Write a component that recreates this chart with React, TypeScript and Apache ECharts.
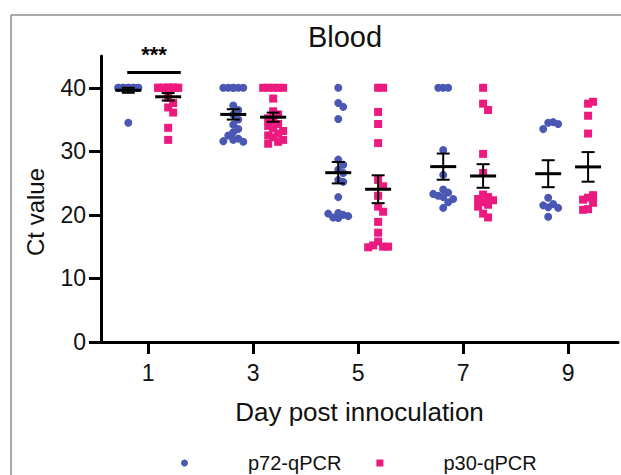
import React, { useEffect, useRef } from "react";
import * as echarts from "echarts";

const FONT = '"Liberation Sans", Arial, Helvetica, sans-serif';
const BLUE = "#4a58b3";
const PINK = "#ec1a7f";

const days = [1, 3, 5, 7, 9];
const yTicks = [0, 10, 20, 30, 40];
const seriesNames = ["p72-qPCR", "p30-qPCR"];

const p72Day1 = [40, 40, 40, 40, 40, 40, 40, 40, 40, 40, 40, 40, 40, 34.5];
const p72Day3 = [40, 40, 40, 40, 40, 40, 37.2, 36.5, 35.8, 35.0, 34.2, 33.5, 33.0, 32.5, 32.0, 31.8, 31.5, 31.6];
const p72Day5 = [40, 37.6, 37.0, 35.1, 28.7, 27.9, 27.1, 26.6, 25.5, 25.2, 22.8, 20.3, 20.0, 19.6, 19.8, 20.2, 19.5];
const p72Day7 = [40, 40, 40, 30.2, 26.3, 24.0, 23.5, 23.0, 22.8, 22.5, 23.3, 22.0, 21.1];
const p72Day9 = [34.5, 34.6, 33.5, 34.3, 22.7, 21.7, 21.2, 21.5, 21.1, 19.7];

const p30Day1 = [40, 40, 40, 40, 40, 40, 40, 40, 40, 40, 40, 40, 38.4, 37.6, 36.9, 36.1, 33.7, 31.8];
const p30Day3 = [40, 40, 40, 40, 40, 38.3, 36.3, 35.8, 35.2, 34.8, 34.3, 34.0, 33.6, 33.2, 32.8, 32.5, 32.2, 31.8, 31.5, 31.2];
const p30Day5 = [40, 40, 36.2, 34.3, 31.3, 25.5, 24.5, 23.0, 21.3, 20.5, 18.9, 17.2, 15.8, 15.0, 15.2, 15.0, 14.9];
const p30Day7 = [40, 37.5, 36.5, 29.6, 26.6, 23.2, 22.8, 22.5, 22.0, 21.6, 22.3, 21.3, 20.2, 19.6];
const p30Day9 = [37.5, 37.8, 35.6, 32.8, 22.7, 23.1, 22.4, 20.9, 21.9, 20.8];

const p72Groups = [p72Day1, p72Day3, p72Day5, p72Day7, p72Day9];
const p30Groups = [p30Day1, p30Day3, p30Day5, p30Day7, p30Day9];

// significance annotation: day 1, p72 vs p30
const sigDay = 1;
const sigFrom = 0.6;
const sigTo = 1.62;
const sigLevel = 42.4;
const sigLabel = "***";

const GROUP_OFFSET = 0.38; // days
const STEP = 0.095; // days, beeswarm slot width
const V_SEP = 1.15; // Ct units considered overlapping

function swarm(values: number[], center: number) {
  const placed: { v: number; k: number }[] = [];
  const slots = [0, 1, -1, 2, -2];
  return values.map((v) => {
    let best = 0;
    let bestCount = Infinity;
    for (const k of slots) {
      const c = placed.filter((p) => Math.abs(p.v - v) < V_SEP && p.k === k).length;
      if (c < bestCount) {
        best = k;
        bestCount = c;
      }
      if (c === 0) break;
    }
    placed.push({ v, k: best });
    return [center + best * STEP, v];
  });
}

function meanSem(values: number[]) {
  const n = values.length;
  const m = values.reduce((a, b) => a + b, 0) / n;
  const sd = Math.sqrt(values.reduce((a, b) => a + (b - m) * (b - m), 0) / (n - 1));
  return [m, sd / Math.sqrt(n)];
}

export default function App() {
  const ref = useRef<HTMLDivElement>(null);
  useEffect(() => {
    if (!ref.current) return;
    const chart = echarts.init(ref.current, null, { renderer: "svg" });

    const p72Points: number[][] = [];
    const p30Points: number[][] = [];
    const summary: number[][] = [];
    days.forEach((d, i) => {
      p72Points.push(...swarm(p72Groups[i], d - GROUP_OFFSET));
      p30Points.push(...swarm(p30Groups[i], d + GROUP_OFFSET));
      const a = meanSem(p72Groups[i]);
      const b = meanSem(p30Groups[i]);
      summary.push([d - GROUP_OFFSET, a[0], a[1]]);
      summary.push([d + GROUP_OFFSET, b[0], b[1]]);
    });

    chart.setOption({
      animation: false,
      backgroundColor: "#fff",
      title: {
        text: "Blood",
        left: 340,
        top: 17,
        textAlign: "center",
        textStyle: { fontFamily: FONT, fontSize: 29, fontWeight: "normal", color: "#111" },
      },
      legend: {
        left: 176,
        top: 448,
        itemWidth: 7,
        itemHeight: 7,
        itemGap: 35,
        data: [
          { name: seriesNames[0], icon: "circle" },
          { name: seriesNames[1], icon: "rect" },
        ],
        textStyle: { fontFamily: FONT, fontSize: 20, color: "#111", padding: [0, 0, 0, 55] },
      },
      grid: { left: 101, right: 3, top: 56, bottom: 133 },
      xAxis: {
        type: "value",
        min: 0.1,
        max: 9.95,
        name: "Day post innoculation",
        nameLocation: "middle",
        nameGap: 57,
        nameTextStyle: { fontFamily: FONT, fontSize: 26, color: "#111" },
        axisLine: { show: true, lineStyle: { color: "#000", width: 3 } },
        axisTick: { show: true, length: 12, customValues: days, lineStyle: { color: "#000", width: 3 } },
        axisLabel: { customValues: days, margin: 19, fontFamily: FONT, fontSize: 23, color: "#111" },
        splitLine: { show: false },
      },
      yAxis: {
        type: "value",
        min: 0,
        max: 45,
        axisLine: { show: true, lineStyle: { color: "#000", width: 3 } },
        axisTick: { show: true, length: 12, customValues: yTicks, lineStyle: { color: "#000", width: 3 } },
        axisLabel: { customValues: yTicks, margin: 15, fontFamily: FONT, fontSize: 23, color: "#111" },
        splitLine: { show: false },
      },
      graphic: [
        { type: "line", shape: { x1: 11, y1: 15, x2: 621, y2: 15 }, style: { stroke: "#8c8c8c", lineWidth: 1.5 } },
        { type: "line", shape: { x1: 11, y1: 15, x2: 11, y2: 475 }, style: { stroke: "#8c8c8c", lineWidth: 1.5 } },
        {
          type: "text",
          x: 35,
          y: 212,
          rotation: Math.PI / 2,
          style: {
            text: "Ct value",
            fontFamily: FONT,
            fontSize: 24,
            fill: "#111",
            align: "center",
            verticalAlign: "middle",
          },
        },
      ],
      series: [
        {
          name: seriesNames[0],
          type: "scatter",
          symbol: "circle",
          symbolSize: 8,
          itemStyle: { color: BLUE, opacity: 1 },
          data: p72Points,
          z: 2,
        },
        {
          name: seriesNames[1],
          type: "scatter",
          symbol: "rect",
          symbolSize: 8,
          itemStyle: { color: PINK, opacity: 1 },
          data: p30Points,
          z: 2,
        },
        {
          type: "custom",
          z: 5,
          data: summary,
          renderItem: (params: any, api: any) => {
            const x = api.value(0);
            const m = api.value(1);
            const s = api.value(2);
            const c = api.coord([x, m]);
            const t = api.coord([x, m + s]);
            const b = api.coord([x, m - s]);
            const st = { stroke: "#000", lineWidth: 2 };
            return {
              type: "group",
              children: [
                { type: "line", shape: { x1: c[0], y1: t[1], x2: c[0], y2: b[1] }, style: st },
                { type: "line", shape: { x1: c[0] - 6.5, y1: t[1], x2: c[0] + 6.5, y2: t[1] }, style: st },
                { type: "line", shape: { x1: c[0] - 6.5, y1: b[1], x2: c[0] + 6.5, y2: b[1] }, style: st },
                { type: "line", shape: { x1: c[0] - 13, y1: c[1], x2: c[0] + 13, y2: c[1] }, style: { stroke: "#000", lineWidth: 3 } },
              ],
            };
          },
        },
        {
          type: "custom",
          z: 5,
          clip: false,
          data: [[sigDay, sigLevel, sigFrom, sigTo]],
          renderItem: (params: any, api: any) => {
            const a = api.coord([api.value(2), api.value(1)]);
            const b = api.coord([api.value(3), api.value(1)]);
            return {
              type: "group",
              children: [
                { type: "line", shape: { x1: a[0], y1: a[1], x2: b[0], y2: b[1] }, style: { stroke: "#000", lineWidth: 3 } },
                {
                  type: "text",
                  x: (a[0] + b[0]) / 2,
                  y: a[1] - 7,
                  style: {
                    text: sigLabel,
                    fontFamily: FONT,
                    fontSize: 22,
                    fontWeight: "bold",
                    fill: "#000",
                    align: "center",
                    verticalAlign: "bottom",
                  },
                },
              ],
            };
          },
        },
      ],
    });
    return () => chart.dispose();
  }, []);
  return (
    <div
      ref={ref}
      style={{ position: "fixed", left: 0, top: 0, width: 621, height: 475, background: "#fff" }}
    />
  );
}
